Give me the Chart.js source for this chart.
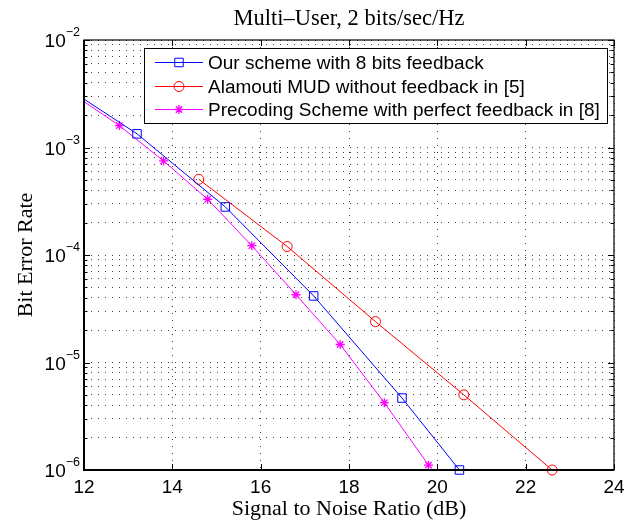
<!DOCTYPE html>
<html>
<head>
<meta charset="utf-8">
<script src="https://cdn.jsdelivr.net/npm/chart.js@4/dist/chart.umd.min.js"></script>
<style>
  html, body { margin: 0; padding: 0; background: #fff; }
  #wrap { width: 628px; height: 527px; position: relative; }
</style>
</head>
<body>
<div id="wrap"><canvas id="ber"></canvas></div>
<script>
// SNR (dB) and BER values
const oursSnr = [12, 13.2, 15.2, 17.2, 19.2, 20.5];
const oursBer = [2.82e-3, 1.34e-3, 2.8e-4, 4.16e-5, 4.67e-6, 1.0e-6];
const oursMark = [0, 1, 1, 1, 1, 1];

const alamoutiSnr = [14.6, 16.6, 18.6, 20.6, 22.6];
const alamoutiBer = [5.06e-4, 1.2e-4, 2.4e-5, 5.0e-6, 1.0e-6];
const alamoutiMark = [1, 1, 1, 1, 1];

const precodSnr = [12, 12.8, 13.8, 14.8, 15.8, 16.8, 17.8, 18.8, 19.8];
const precodBer = [2.67e-3, 1.6e-3, 7.5e-4, 3.3e-4, 1.22e-4, 4.27e-5, 1.47e-5, 4.23e-6, 1.11e-6];
const precodMark = [0, 1, 1, 1, 1, 1, 1, 1, 1];

const seriesLabels = [
  "Our scheme with 8 bits feedback",
  "Alamouti MUD without feedback in [5]",
  "Precoding Scheme with perfect feedback in [8]"
];

const xTicks = [12, 14, 16, 18, 20, 22, 24];
const yDecades = [-6, -5, -4, -3, -2];

const titleText = "Multi\u2013User, 2 bits/sec/Hz";
const xTitle = "Signal to Noise Ratio (dB)";
const yTitle = "Bit Error Rate";

const SANS = "'Liberation Sans', Arial, sans-serif";
const SERIF = "'Liberation Serif', 'Times New Roman', serif";

// all 1..9 x 10^k values for the log grid
const yGridVals = [];
yDecades.forEach((d, i) => {
  const steps = i === yDecades.length - 1 ? 1 : 9;
  for (let m = 1; m <= steps; m++) yGridVals.push(m * Math.pow(10, d));
});

function toPoints(xs, ys) {
  return xs.map((x, i) => ({ x: x, y: ys[i] }));
}

function makeSet(label, xs, ys, marks, color, style, r) {
  return {
    label: label,
    data: toPoints(xs, ys),
    borderColor: color,
    backgroundColor: "rgba(0,0,0,0)",
    borderWidth: 1,
    pointStyle: style,
    pointRadius: marks.map(m => m ? r : 0),
    pointBorderWidth: style === "star" ? 1.3 : 1,
    pointBorderColor: color,
    pointBackgroundColor: "rgba(0,0,0,0)",
    tension: 0,
    clip: false
  };
}

// draw one marker, used for the legend
function drawMarker(ctx, style, color, r, x, y) {
  ctx.save();
  ctx.strokeStyle = color;
  ctx.lineWidth = style === "star" ? 1.3 : 1;
  ctx.beginPath();
  if (style === "rect") {
    const s = r * Math.SQRT1_2;
    ctx.rect(x - s, y - s, 2 * s, 2 * s);
  } else if (style === "circle") {
    ctx.arc(x, y, r, 0, Math.PI * 2);
  } else {
    for (let k = 0; k < 4; k++) {
      const a = k * Math.PI / 4;
      ctx.moveTo(x - Math.cos(a) * r, y - Math.sin(a) * r);
      ctx.lineTo(x + Math.cos(a) * r, y + Math.sin(a) * r);
    }
  }
  ctx.stroke();
  ctx.restore();
}

const decorations = {
  id: "decorations",
  afterDraw(chart) {
    const ctx = chart.ctx;
    const area = chart.chartArea;
    const xs = chart.scales.x, ys = chart.scales.y;
    ctx.save();

    // inward tick marks
    ctx.strokeStyle = "#000";
    ctx.lineWidth = 1;
    ctx.beginPath();
    xTicks.forEach(v => {
      const px = Math.round(xs.getPixelForValue(v)) + 0.5;
      ctx.moveTo(px, area.bottom); ctx.lineTo(px, area.bottom - 6);
      ctx.moveTo(px, area.top); ctx.lineTo(px, area.top + 6);
    });
    yGridVals.forEach(v => {
      const py = Math.round(ys.getPixelForValue(v)) + 0.5;
      const major = Math.abs(Math.log10(v) - Math.round(Math.log10(v))) < 1e-9;
      const len = major ? 6 : 3.5;
      ctx.moveTo(area.left, py); ctx.lineTo(area.left + len, py);
      ctx.moveTo(area.right, py); ctx.lineTo(area.right - len, py);
    });
    ctx.stroke();

    // axes box
    ctx.lineWidth = 1.2;
    ctx.strokeRect(area.left, area.top, area.right - area.left, area.bottom - area.top);
    ctx.lineWidth = 2;
    ctx.beginPath();
    ctx.moveTo(area.left, area.top);
    ctx.lineTo(area.left, area.bottom);
    ctx.lineTo(area.right, area.bottom);
    ctx.stroke();

    // x tick labels
    ctx.fillStyle = "#000";
    ctx.font = "19px " + SANS;
    ctx.textAlign = "center";
    ctx.textBaseline = "alphabetic";
    xTicks.forEach(v => {
      ctx.fillText(String(v), xs.getPixelForValue(v), area.bottom + 23);
    });

    // y tick labels: 10 with a superscript exponent
    yDecades.forEach(d => {
      const py = ys.getPixelForValue(Math.pow(10, d));
      const sup = "\u2212" + Math.abs(d);
      ctx.font = "12.5px " + SANS;
      const w2 = ctx.measureText(sup).width;
      ctx.font = "19px " + SANS;
      const w1 = ctx.measureText("10").width;
      const x0 = area.left - 4 - w2 - w1;
      ctx.textAlign = "left";
      ctx.fillText("10", x0, py + 7);
      ctx.font = "12.5px " + SANS;
      ctx.fillText(sup, x0 + w1, py - 4);
    });

    // title and axis titles
    const cx = (area.left + area.right) / 2;
    ctx.font = "22.5px " + SERIF;
    ctx.textAlign = "center";
    ctx.fillText(titleText, cx, 25);
    ctx.font = "22px " + SERIF;
    ctx.fillText(xTitle, cx, area.bottom + 45);
    ctx.save();
    ctx.translate(32, (area.top + area.bottom) / 2);
    ctx.rotate(-Math.PI / 2);
    ctx.fillText(yTitle, 0, 0);
    ctx.restore();

    // legend box in the upper right
    const lx = 144, ly = 48, lw = 463, lh = 75;
    ctx.fillStyle = "#fff";
    ctx.fillRect(lx, ly, lw, lh);
    ctx.strokeStyle = "#000";
    ctx.lineWidth = 1;
    ctx.strokeRect(lx + 0.5, ly + 0.5, lw, lh);
    const rows = [62, 86, 109];
    chart.data.datasets.forEach((ds, i) => {
      const y = rows[i];
      ctx.strokeStyle = ds.borderColor;
      ctx.lineWidth = 1;
      ctx.beginPath();
      ctx.moveTo(155, y + 0.5);
      ctx.lineTo(203, y + 0.5);
      ctx.stroke();
      const r = Math.max.apply(null, ds.pointRadius);
      drawMarker(ctx, ds.pointStyle, ds.borderColor, r, 179, y + 0.5);
      ctx.fillStyle = "#000";
      ctx.font = "19px " + SANS;
      ctx.textAlign = "left";
      ctx.fillText(ds.label, 208, y + 7);
    });

    ctx.restore();
  }
};

window.onload = () => {
  const ctx = document.getElementById("ber").getContext("2d");
  new Chart(ctx, {
    type: "line",
    data: {
      datasets: [
        makeSet(seriesLabels[0], oursSnr, oursBer, oursMark, "#0000ff", "rect", 6),
        makeSet(seriesLabels[1], alamoutiSnr, alamoutiBer, alamoutiMark, "#ff0000", "circle", 5),
        makeSet(seriesLabels[2], precodSnr, precodBer, precodMark, "#ff00ff", "star", 4.5)
      ]
    },
    options: {
      responsive: true,
      maintainAspectRatio: false,
      animation: false,
      layout: { autoPadding: false, padding: { left: 84, top: 40, right: 14, bottom: 57 } },
      plugins: { legend: { display: false }, title: { display: false }, tooltip: { enabled: false } },
      scales: {
        x: {
          type: "linear",
          min: 12,
          max: 24,
          ticks: { display: false, stepSize: 2 },
          grid: { color: "rgba(0,0,0,0.75)", drawTicks: false, lineWidth: 1 },
          border: { display: false, dash: [1, 6] }
        },
        y: {
          type: "logarithmic",
          min: 1e-6,
          max: 1e-2,
          afterBuildTicks: scale => { scale.ticks = yGridVals.map(v => ({ value: v })); },
          ticks: { display: false, autoSkip: false },
          grid: { color: "rgba(0,0,0,0.75)", drawTicks: false, lineWidth: 1 },
          border: { display: false, dash: [1, 6] }
        }
      }
    },
    plugins: [decorations]
  });
};
</script>
</body>
</html>
